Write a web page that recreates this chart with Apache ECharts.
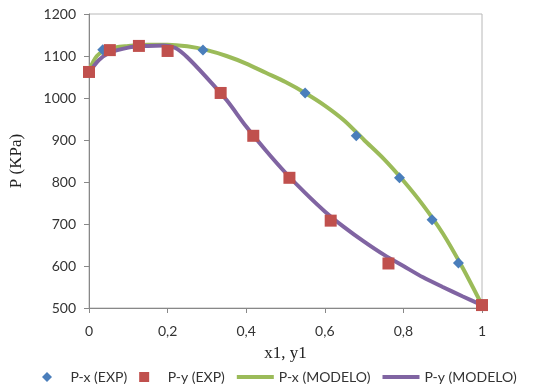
<!DOCTYPE html>
<html>
<head>
<meta charset="utf-8">
<script src="https://cdn.jsdelivr.net/npm/echarts@6/dist/echarts.min.js"></script>
<style>
  html, body { margin: 0; padding: 0; background: #fff; }
  #chart { width: 543px; height: 389px; }
</style>
</head>
<body>
<div id="chart"></div>
<script>
// experimental points
const pxExpX = [0, 0.035, 0.29, 0.55, 0.68, 0.79, 0.873, 0.94, 1];
const pxExpY = [1062, 1115, 1114, 1012, 910, 810, 710, 607, 507];
const pyExpX = [0, 0.053, 0.127, 0.2, 0.335, 0.418, 0.51, 0.615, 0.762, 1];
const pyExpY = [1062, 1114, 1124, 1112, 1012, 910, 810, 708, 606, 507];

// model curves
const pxModX = [0, 0.02, 0.05, 0.1, 0.15, 0.2, 0.25, 0.3, 0.35, 0.4, 0.45, 0.5, 0.55, 0.6, 0.65, 0.7, 0.75, 0.8, 0.85, 0.9, 0.95, 1];
const pxModY = [1065, 1100, 1117, 1124, 1127, 1127, 1123, 1114, 1100, 1082, 1060, 1038, 1012, 982, 946, 900, 855, 803, 745, 678, 597, 507];
const pyModX = [0, 0.025, 0.05, 0.1, 0.15, 0.19, 0.22, 0.25, 0.3, 0.35, 0.4, 0.45, 0.5, 0.55, 0.6, 0.65, 0.7, 0.75, 0.8, 0.85, 0.9, 0.95, 1];
const pyModY = [1060, 1090, 1107, 1120, 1124, 1125, 1119, 1097, 1048, 995, 932, 875, 822, 774, 730, 692, 658, 627, 600, 573, 550, 528, 507];

const zip = (xs, ys) => xs.map((x, i) => [x, ys[i]]);

const chart = echarts.init(document.getElementById('chart'));
chart.setOption({
  animation: false,
  textStyle: { fontFamily: 'Lato' },
  grid: {
    left: 82, right: 61, top: 14, bottom: 81,
    show: true, borderColor: '#b8b8b8', borderWidth: 1
  },
  legend: {
    left: 37, bottom: 0,
    itemWidth: 37, itemHeight: 10, itemGap: 12,
    symbolKeepAspect: true,
    textStyle: { fontSize: 14, color: '#333', fontFamily: 'Lato' },
    data: [
      { name: 'P-x (EXP)', icon: 'path://M5,0 L10,5 L5,10 L0,5 Z', itemStyle: { color: '#4a7ebb' } },
      { name: 'P-y (EXP)', icon: 'path://M0,0 L10,0 L10,10 L0,10 Z', itemStyle: { color: '#c0504d' } },
      { name: 'P-x (MODELO)', icon: 'path://M0,0 L37,0 L37,4 L0,4 Z', itemStyle: { color: '#9bbb59' } },
      { name: 'P-y (MODELO)', icon: 'path://M0,0 L37,0 L37,4 L0,4 Z', itemStyle: { color: '#8064a2' } }
    ]
  },
  xAxis: {
    type: 'value', min: 0, max: 1, interval: 0.2,
    name: 'x1, y1', nameLocation: 'middle', nameGap: 37,
    nameTextStyle: { fontFamily: 'Liberation Serif', fontSize: 17, color: '#222' },
    axisLine: { lineStyle: { color: '#888', width: 1 } },
    axisTick: { inside: false, length: 5, lineStyle: { color: '#888' } },
    axisLabel: { fontSize: 14, color: '#333', margin: 16,
      formatter: v => String(v).replace('.', ',') },
    splitLine: { show: false }
  },
  yAxis: {
    type: 'value', min: 500, max: 1200, interval: 100,
    name: 'P (KPa)', nameLocation: 'middle', nameGap: 64,
    nameTextStyle: { fontFamily: 'Liberation Serif', fontSize: 17, color: '#222' },
    axisLine: { show: true, lineStyle: { color: '#888', width: 1 } },
    axisTick: { show: true, inside: false, length: 5, lineStyle: { color: '#888' } },
    axisLabel: { fontSize: 14, color: '#333', margin: 13, formatter: v => String(v) },
    splitLine: { show: false }
  },
  series: [
    {
      name: 'P-x (MODELO)', type: 'line', smooth: 0.3, symbol: 'none', z: 2,
      lineStyle: { color: '#9bbb59', width: 4 }, itemStyle: { color: '#9bbb59' },
      data: zip(pxModX, pxModY)
    },
    {
      name: 'P-y (MODELO)', type: 'line', smooth: 0.3, symbol: 'none', z: 2,
      lineStyle: { color: '#8064a2', width: 4 }, itemStyle: { color: '#8064a2' },
      data: zip(pyModX, pyModY)
    },
    {
      name: 'P-x (EXP)', type: 'scatter', symbol: 'diamond', symbolSize: 11, z: 3,
      itemStyle: { color: '#4a7ebb', opacity: 1 },
      data: zip(pxExpX, pxExpY)
    },
    {
      name: 'P-y (EXP)', type: 'scatter', symbol: 'rect', symbolSize: 12, z: 4,
      itemStyle: { color: '#c0504d', opacity: 1 },
      data: zip(pyExpX, pyExpY)
    }
  ]
});
</script>
</body>
</html>
